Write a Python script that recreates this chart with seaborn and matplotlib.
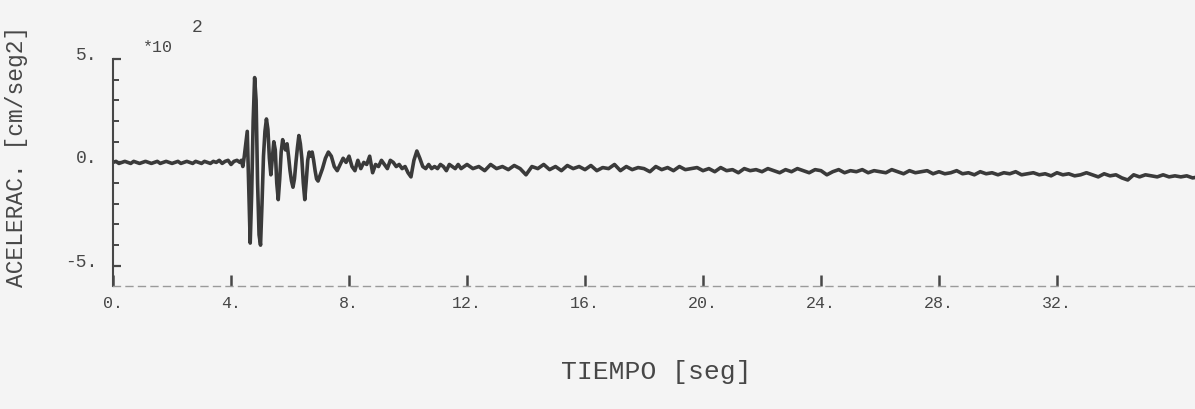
import numpy as np
import pandas as pd
import matplotlib.pyplot as plt
import seaborn as sns

# acceleration, in units of 10^2 cm/seg2
# quiet part before the arrival, every 0.1 s from 0.0 s
acc_pre = [0.0, 0.05, -0.05, 0.0, 0.05, 0.0, -0.05, 0.05, 0.0, -0.05,
           0.0, 0.05, 0.0, -0.05, 0.0, 0.05, -0.05, 0.0, 0.05, 0.0,
           -0.05, 0.0, 0.05, -0.05, 0.0, 0.05, 0.0, -0.05, 0.05, 0.0,
           -0.05, 0.05, 0.0, -0.05, 0.05, 0.0, 0.1, -0.05, 0.05, 0.1,
           -0.1, 0.05, 0.1]
# strong motion, every 0.05 s from 4.30 s
acc_strong = [0.0, 0.1, -0.2, 0.3, 0.9, 1.5, -1.2, -3.9, -1.5, 2.0,
              4.1, 3.0, -1.0, -3.5, -4.0, -2.0, 0.3, 1.5, 2.1, 1.6,
              0.2, -0.6, 0.2, 1.0, 0.6, -1.0, -1.8, -0.8, 0.5, 1.1,
              0.8, 0.6, 0.9, 0.3, -0.4, -0.9, -1.2, -0.8, 0.0, 0.7,
              1.3, 0.9, 0.2, -1.0, -1.8, -0.9, 0.1, 0.5, 0.3, 0.5,
              0.1, -0.4, -0.8, -0.9]
# coda, every 0.1 s from 7.0 s
acc_coda = [-0.7, -0.3, 0.2, 0.5, 0.3, -0.2, -0.4, -0.1, 0.2, 0.0,
            0.3, -0.2, -0.4, 0.1, -0.3, 0.0, -0.1, 0.3, -0.5, -0.1,
            -0.2, 0.1, -0.1, -0.3, 0.1, 0.0, -0.2, -0.1, -0.3, -0.2,
            -0.5, -0.7, 0.1, 0.55, 0.2, -0.2, -0.3, -0.1, -0.3, -0.2,
            -0.3, -0.1, -0.2, -0.4, -0.1, -0.2, -0.3, -0.1, -0.3, -0.2]
# tail, every 0.2 s from 12.0 s
acc_tail = [-0.1, -0.3, -0.2, -0.4, -0.1, -0.3, -0.2, -0.35, -0.15, -0.3,
            -0.6, -0.2, -0.3, -0.1, -0.35, -0.2, -0.4, -0.15, -0.3, -0.2,
            -0.35, -0.15, -0.4, -0.25, -0.3, -0.1, -0.4, -0.2, -0.35, -0.25,
            -0.3, -0.45, -0.2, -0.35, -0.25, -0.4, -0.2, -0.35, -0.3, -0.25,
            -0.4, -0.3, -0.45, -0.25, -0.4, -0.35, -0.5, -0.3, -0.4, -0.35,
            -0.45, -0.3, -0.4, -0.5, -0.35, -0.45, -0.3, -0.4, -0.5, -0.35,
            -0.4, -0.6, -0.45, -0.35, -0.5, -0.4, -0.45, -0.35, -0.5, -0.4,
            -0.45, -0.5, -0.35, -0.45, -0.55, -0.4, -0.5, -0.45, -0.4, -0.55,
            -0.45, -0.55, -0.5, -0.4, -0.55, -0.5, -0.6, -0.45, -0.55, -0.5,
            -0.6, -0.5, -0.55, -0.45, -0.6, -0.55, -0.5, -0.6, -0.55, -0.65,
            -0.5, -0.6, -0.55, -0.65, -0.6, -0.5, -0.6, -0.7, -0.55, -0.65,
            -0.6, -0.75, -0.85, -0.6, -0.7, -0.6, -0.65, -0.7, -0.6, -0.7,
            -0.65, -0.7, -0.65, -0.75, -0.7]

x_ticks = [0, 4, 8, 12, 16, 20, 24, 28, 32]
x_labels = ["0.", "4.", "8.", "12.", "16.", "20.", "24.", "28.", "32."]
y_ticks = [-5, 0, 5]
y_labels = ["-5.", "0.", "5."]

# sample times for each segment
t_pre = 0.1 * np.arange(len(acc_pre))
t_strong = 4.30 + 0.05 * np.arange(len(acc_strong))
t_coda = 7.0 + 0.1 * np.arange(len(acc_coda))
t_tail = 12.0 + 0.2 * np.arange(len(acc_tail))

df = pd.DataFrame({
    "tiempo": np.concatenate([t_pre, t_strong, t_coda, t_tail]),
    "acel": acc_pre + acc_strong + acc_coda + acc_tail,
})

sns.set_style("white")
plt.rcParams["font.family"] = ["Liberation Mono", "DejaVu Sans Mono"]

ink = "#474747"
bg = "#f4f4f4"

fig = plt.figure(figsize=(11.95, 4.10), dpi=100, facecolor=bg)
ax = fig.add_axes([0.0946, 0.2988, 0.9054, 0.5549])
ax.set_facecolor(bg)

sns.lineplot(data=df, x="tiempo", y="acel", ax=ax, color="#3a3a3a",
             linewidth=2.6, sort=False)

ax.set_xlim(0, 36.68)
ax.set_ylim(-6, 5)

ax.set_xticks(x_ticks)
ax.set_xticklabels(x_labels)
ax.set_yticks(y_ticks)
ax.set_yticklabels(y_labels)
ax.set_yticks(range(-5, 6), minor=True)

ax.tick_params(axis="x", bottom=True, direction="in", length=8, width=1.8,
               color=ink, labelsize=12, labelcolor=ink, pad=6)
ax.tick_params(axis="y", which="major", left=True, direction="in", length=6,
               width=1.6, color=ink, labelsize=13, labelcolor=ink, pad=11)
ax.tick_params(axis="y", which="minor", left=True, direction="in", length=4,
               width=1.4, color=ink)
for lab in ax.get_yticklabels():
    lab.set_verticalalignment("baseline")

for side in ["top", "right"]:
    ax.spines[side].set_visible(False)
ax.spines["left"].set_color(ink)
ax.spines["left"].set_linewidth(1.5)
ax.spines["bottom"].set_color("#9a9a9a")
ax.spines["bottom"].set_linewidth(1.0)
ax.spines["bottom"].set_linestyle((0, (5, 4)))

ax.set_xlabel("")
ax.set_ylabel("")

# labels and the scale factor, placed like the plotter output
fig.text(17 / 1195, 1 - 156 / 410, "ACELERAC. [cm/seg2]", rotation=90,
         ha="center", va="center", fontsize=16.5, color=ink)
fig.text(656 / 1195, 1 - 372 / 410, "TIEMPO [seg]", ha="center",
         va="center", fontsize=19, color=ink)
fig.text(143 / 1195, 1 - 47 / 410, "*10", ha="left", va="center",
         fontsize=12, color=ink)
fig.text(197 / 1195, 1 - 27 / 410, "2", ha="center", va="center",
         fontsize=13, color=ink)

fig.savefig("out.png", dpi=100, facecolor=bg)
